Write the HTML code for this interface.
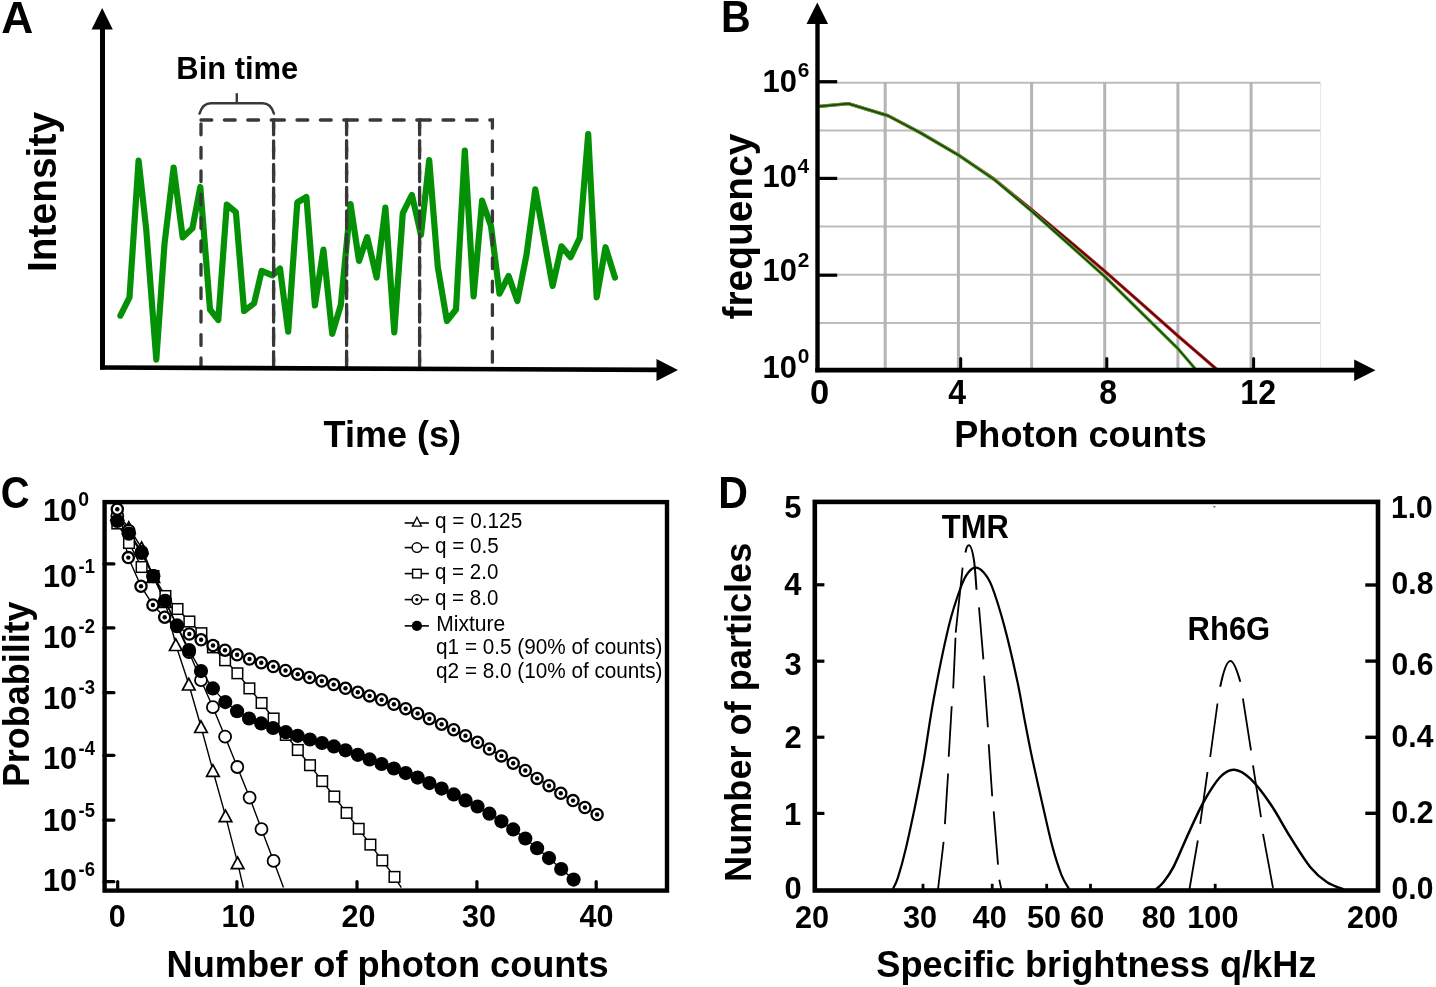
<!DOCTYPE html>
<html lang="en">
<head>
<meta charset="utf-8">
<title>Photon counting histogram figure</title>
<style>
html,body{margin:0;padding:0;background:#fff;}
body{width:1436px;height:987px;overflow:hidden;}
svg{display:block;font-family:"Liberation Sans", sans-serif;}
text{font-family:"Liberation Sans", sans-serif;}
</style>
</head>
<body>
<svg width="1436" height="987" viewBox="0 0 1436 987" role="img" aria-label="Photon counting histogram figure, panels A to D">
<rect width="1436" height="987" fill="#fff"/>
<g id="panelA" aria-label="Panel A: intensity trace with bin time">
<text x="1.2" y="32.8" font-size="44.8" font-weight="bold" textLength="32.0" lengthAdjust="spacingAndGlyphs">A</text>
<polyline points="120.4,315.6 129.5,297.3 138.6,160.5 146.2,229.0 156.3,359.6 164.5,244.0 173.6,167.5 182.7,237.4 192.4,228.3 200.3,187.0 210.0,309.5 218.3,320.0 226.8,204.6 235.9,212.2 244.1,311.0 254.1,303.4 261.7,270.9 272.4,275.4 280.0,268.5 288.2,331.7 297.3,202.5 306.4,197.0 314.9,305.5 323.4,249.6 332.2,333.8 340.8,305.0 350.5,204.0 359.0,260.9 367.2,237.1 376.6,277.6 385.4,207.7 394.3,332.3 402.8,213.1 411.9,194.9 421.0,235.0 429.2,160.0 437.8,267.0 446.9,321.0 456.0,309.5 464.8,150.5 473.6,296.4 482.1,200.7 491.0,226.0 499.5,293.7 508.6,276.0 517.4,301.0 526.5,254.8 535.3,189.4 552.6,286.0 561.5,246.3 570.6,257.2 579.7,238.0 588.2,134.1 596.7,297.3 605.5,247.2 615.0,277.6" fill="none" stroke="#059105" stroke-width="6.2" stroke-linejoin="round" stroke-linecap="round"/>
<path d="M201.0,120 L273.6,120 L273.6,366" fill="none" stroke="#383838" stroke-width="3.3" stroke-linecap="round" stroke-dasharray="10.8 12.6"/>
<path d="M201.0,124 L201.0,366" fill="none" stroke="#383838" stroke-width="3.3" stroke-linecap="round" stroke-dasharray="10.8 12.6"/>
<path d="M273.6,120 L346.6,120 L346.6,366" fill="none" stroke="#383838" stroke-width="3.3" stroke-linecap="round" stroke-dasharray="10.8 12.6"/>
<path d="M273.6,124 L273.6,366" fill="none" stroke="#383838" stroke-width="3.3" stroke-linecap="round" stroke-dasharray="10.8 12.6"/>
<path d="M346.6,120 L419.6,120 L419.6,366" fill="none" stroke="#383838" stroke-width="3.3" stroke-linecap="round" stroke-dasharray="10.8 12.6"/>
<path d="M346.6,124 L346.6,366" fill="none" stroke="#383838" stroke-width="3.3" stroke-linecap="round" stroke-dasharray="10.8 12.6"/>
<path d="M419.6,120 L492.4,120 L492.4,366" fill="none" stroke="#383838" stroke-width="3.3" stroke-linecap="round" stroke-dasharray="10.8 12.6"/>
<path d="M419.6,124 L419.6,366" fill="none" stroke="#383838" stroke-width="3.3" stroke-linecap="round" stroke-dasharray="10.8 12.6"/>
<path d="M199.6,113.5 C201.5,107 205,103.2 211,103.2 L262.5,103.2 C268.5,103.2 272,107 273.9,113.5" fill="none" stroke="#383838" stroke-width="2.6" stroke-linecap="round"/>
<line x1="236.8" y1="93.2" x2="236.8" y2="103.2" stroke="#383838" stroke-width="2.4"/>
<text x="176.3" y="79.1" font-size="31.8" font-weight="bold" textLength="122.0" lengthAdjust="spacingAndGlyphs">Bin time</text>
<line x1="102.5" y1="22.0" x2="102.5" y2="369.5" stroke="#000" stroke-width="5"/>
<polygon points="102.2,8 112.8,29.5 91.6,29.5" fill="#000"/>
<polygon points="100,365.2 660,367.6 660,372.2 100,369.8" fill="#000"/>
<polygon points="678,370.1 656.5,359.1 656.5,380.9" fill="#000"/>
<text x="56.0" y="272.1" font-size="40.7" font-weight="bold" textLength="160.2" lengthAdjust="spacingAndGlyphs" transform="rotate(-90 56.0 272.1)">Intensity</text>
<text x="323.6" y="446.7" font-size="37.5" font-weight="bold" textLength="137.5" lengthAdjust="spacingAndGlyphs">Time (s)</text>
</g>
<g id="panelB" aria-label="Panel B: photon count frequency">
<text x="720.9" y="32.4" font-size="44" font-weight="bold" textLength="29.6" lengthAdjust="spacingAndGlyphs">B</text>
<line x1="818.0" y1="82.8" x2="1320.6" y2="82.8" stroke="#bdbdbd" stroke-width="2"/>
<line x1="818.0" y1="130.6" x2="1320.6" y2="130.6" stroke="#bdbdbd" stroke-width="2"/>
<line x1="818.0" y1="178.7" x2="1320.6" y2="178.7" stroke="#bdbdbd" stroke-width="2"/>
<line x1="818.0" y1="226.6" x2="1320.6" y2="226.6" stroke="#bdbdbd" stroke-width="2"/>
<line x1="818.0" y1="274.8" x2="1320.6" y2="274.8" stroke="#bdbdbd" stroke-width="2"/>
<line x1="818.0" y1="322.9" x2="1320.6" y2="322.9" stroke="#bdbdbd" stroke-width="2"/>
<line x1="885.2" y1="82.0" x2="885.2" y2="368.0" stroke="#b4b4b4" stroke-width="3"/>
<line x1="958.4" y1="82.0" x2="958.4" y2="368.0" stroke="#b4b4b4" stroke-width="3"/>
<line x1="1031.6" y1="82.0" x2="1031.6" y2="368.0" stroke="#b4b4b4" stroke-width="3"/>
<line x1="1104.7" y1="82.0" x2="1104.7" y2="368.0" stroke="#b4b4b4" stroke-width="3"/>
<line x1="1177.9" y1="82.0" x2="1177.9" y2="368.0" stroke="#b4b4b4" stroke-width="3"/>
<line x1="1251.1" y1="82.0" x2="1251.1" y2="368.0" stroke="#b4b4b4" stroke-width="3"/>
<line x1="1320.6" y1="82.0" x2="1320.6" y2="368.0" stroke="#e6e6e6" stroke-width="1"/>
<polyline points="819.4,106.3 848.4,103.6 888.5,115.9 920.8,133.0 958.2,154.9 994.3,179.2 1031.5,209.5 1068.0,240.0 1104.5,270.9 1142.2,304.2 1177.8,335.8 1216.3,369.0" fill="none" stroke="#c42a2a" stroke-width="3.3" stroke-linejoin="round"/>
<polyline points="819.4,106.3 848.4,103.6 888.5,115.9 920.8,133.0 958.2,154.9 994.3,179.2 1031.5,209.5 1068.0,240.0 1104.5,270.9 1142.2,304.2 1177.8,335.8 1216.3,369.0" fill="none" stroke="#560808" stroke-width="1.7" stroke-linejoin="round"/>
<polyline points="819.4,106.3 848.4,103.6 888.5,115.9 920.8,133.0 958.2,154.9 994.3,179.6 1031.5,211.0 1068.0,243.5 1104.5,276.3 1150.4,321.5 1177.8,348.5 1195.4,369.0" fill="none" stroke="#55a733" stroke-width="3.3" stroke-linejoin="round"/>
<polyline points="819.4,106.3 848.4,103.6 888.5,115.9 920.8,133.0 958.2,154.9 994.3,179.6 1031.5,211.0 1068.0,243.5 1104.5,276.3 1150.4,321.5 1177.8,348.5 1195.4,369.0" fill="none" stroke="#1c470c" stroke-width="1.7" stroke-linejoin="round"/>
<line x1="817.5" y1="18.0" x2="817.5" y2="372.2" stroke="#000" stroke-width="4.4"/>
<polygon points="817.3,2.5 828.1,24.1 806.5,24.1" fill="#000"/>
<line x1="815.3" y1="370.1" x2="1356.0" y2="370.1" stroke="#000" stroke-width="4.8"/>
<polygon points="1375.5,370.2 1354.2,359.4 1354.2,380.9" fill="#000"/>
<line x1="817.0" y1="81.7" x2="837.2" y2="81.7" stroke="#000" stroke-width="3.2"/>
<line x1="817.0" y1="178.4" x2="837.2" y2="178.4" stroke="#000" stroke-width="3.2"/>
<line x1="817.0" y1="275.2" x2="837.2" y2="275.2" stroke="#000" stroke-width="3.2"/>
<line x1="960.7" y1="358.6" x2="960.7" y2="369.0" stroke="#000" stroke-width="3" stroke-linecap="round"/>
<line x1="1106.8" y1="358.6" x2="1106.8" y2="369.0" stroke="#000" stroke-width="3" stroke-linecap="round"/>
<line x1="1253.6" y1="358.6" x2="1253.6" y2="369.0" stroke="#000" stroke-width="3" stroke-linecap="round"/>
<text x="762.5" y="91.7" font-size="32" font-weight="bold" textLength="34.4" lengthAdjust="spacingAndGlyphs">10</text>
<text x="797.7" y="77.4" font-size="20.8" font-weight="bold" textLength="11.6" lengthAdjust="spacingAndGlyphs">6</text>
<text x="762.5" y="187.0" font-size="32" font-weight="bold" textLength="34.4" lengthAdjust="spacingAndGlyphs">10</text>
<text x="797.6" y="172.7" font-size="20.8" font-weight="bold" textLength="11.6" lengthAdjust="spacingAndGlyphs">4</text>
<text x="762.5" y="281.0" font-size="32" font-weight="bold" textLength="34.4" lengthAdjust="spacingAndGlyphs">10</text>
<text x="797.8" y="266.7" font-size="20.8" font-weight="bold" textLength="11.6" lengthAdjust="spacingAndGlyphs">2</text>
<text x="762.5" y="377.7" font-size="32" font-weight="bold" textLength="34.4" lengthAdjust="spacingAndGlyphs">10</text>
<text x="797.7" y="363.4" font-size="20.8" font-weight="bold" textLength="11.6" lengthAdjust="spacingAndGlyphs">0</text>
<text x="809.9" y="403.6" font-size="34.5" font-weight="bold" textLength="19.2" lengthAdjust="spacingAndGlyphs">0</text>
<text x="948.3" y="403.6" font-size="34.5" font-weight="bold" textLength="17.8" lengthAdjust="spacingAndGlyphs">4</text>
<text x="1099.3" y="403.6" font-size="34.5" font-weight="bold" textLength="17.8" lengthAdjust="spacingAndGlyphs">8</text>
<text x="1240.3" y="403.6" font-size="34.5" font-weight="bold" textLength="35.7" lengthAdjust="spacingAndGlyphs">12</text>
<text x="751.6" y="319.5" font-size="40" font-weight="bold" textLength="185.9" lengthAdjust="spacingAndGlyphs" transform="rotate(-90 751.6 319.5)">frequency</text>
<text x="954.3" y="446.7" font-size="37.5" font-weight="bold" textLength="252.4" lengthAdjust="spacingAndGlyphs">Photon counts</text>
</g>
<g id="panelC" aria-label="Panel C: probability versus number of photon counts">
<text x="0.7" y="508.4" font-size="43.5" font-weight="bold" textLength="28.8" lengthAdjust="spacingAndGlyphs">C</text>
<polyline points="117.3,523.5 129.0,543.0 141.6,567.0 153.5,576.0 165.4,596.0 177.5,609.0 189.4,621.5 201.4,633.2 212.9,647.4 225.1,660.3 237.4,673.3 249.4,688.4 261.6,703.0 273.6,718.5 285.8,734.9 297.8,750.0 310.0,765.2 322.2,781.1 334.3,796.5 346.6,812.9 358.7,828.8 370.4,844.6 382.3,860.4 394.5,876.9 401.3,887.6" fill="none" stroke="#000" stroke-width="1.4"/>
<polyline points="117.3,514.0 128.8,527.7 141.6,547.8 153.3,576.5 165.1,601.5 175.8,644.7 188.8,684.2 201.0,726.7 212.9,770.5 225.5,815.9 237.6,862.8 243.4,887.6" fill="none" stroke="#000" stroke-width="1.4"/>
<polyline points="117.3,516.0 128.8,531.0 141.6,552.0 153.3,576.0 165.1,601.0 177.0,626.0 189.0,652.0 201.0,680.2 212.9,707.2 225.1,736.7 237.3,767.0 249.6,797.6 261.5,829.2 273.6,860.9 283.5,887.6" fill="none" stroke="#000" stroke-width="1.4"/>
<polyline points="117.3,509.2 128.3,557.6 141.0,586.2 152.9,605.0 164.7,617.2 177.0,626.5 189.3,634.0 201.1,639.8 213.0,645.5 225.0,650.2 237.1,654.8 249.5,659.0 261.3,662.8 273.3,666.6 285.5,670.5 297.7,674.2 309.6,677.5 321.8,681.0 333.7,684.6 345.5,688.3 357.8,692.3 369.6,695.9 381.6,699.8 393.9,704.3 405.7,708.7 417.6,713.4 429.4,718.7 441.6,724.2 453.7,729.7 465.5,735.7 477.5,742.3 489.4,749.0 501.4,755.9 513.2,763.2 525.3,770.5 537.1,778.4 549.0,785.7 560.8,793.3 573.0,800.6 584.9,807.5 597.1,814.5" fill="none" stroke="#000" stroke-width="1.4"/>
<polyline points="117.3,521.0 128.8,533.7 141.6,553.0 153.3,576.2 165.1,600.8 177.0,625.4 189.0,650.0 201.0,671.1 212.9,688.4 225.3,702.1 237.1,711.2 249.0,718.5 261.2,723.4 273.1,728.0 285.8,732.2 297.7,735.8 309.9,739.5 322.0,743.0 333.9,746.4 345.5,750.3 357.8,754.8 369.6,759.4 381.6,764.0 393.9,768.5 405.7,773.1 417.6,777.6 429.4,783.1 441.6,788.6 453.7,794.4 465.5,800.4 477.5,806.5 489.4,813.7 501.4,821.3 513.2,829.4 525.3,838.5 537.1,848.2 549.0,858.1 561.2,869.0 573.6,879.6" fill="none" stroke="#000" stroke-width="1.4"/>
<rect x="112.0" y="518.2" width="10.6" height="10.6" fill="#fff" stroke="#000" stroke-width="1.5"/>
<rect x="123.7" y="537.7" width="10.6" height="10.6" fill="#fff" stroke="#000" stroke-width="1.5"/>
<rect x="136.3" y="561.7" width="10.6" height="10.6" fill="#fff" stroke="#000" stroke-width="1.5"/>
<rect x="148.2" y="570.7" width="10.6" height="10.6" fill="#fff" stroke="#000" stroke-width="1.5"/>
<rect x="160.1" y="590.7" width="10.6" height="10.6" fill="#fff" stroke="#000" stroke-width="1.5"/>
<rect x="172.2" y="603.7" width="10.6" height="10.6" fill="#fff" stroke="#000" stroke-width="1.5"/>
<rect x="184.1" y="616.2" width="10.6" height="10.6" fill="#fff" stroke="#000" stroke-width="1.5"/>
<rect x="196.1" y="627.9" width="10.6" height="10.6" fill="#fff" stroke="#000" stroke-width="1.5"/>
<rect x="207.6" y="642.1" width="10.6" height="10.6" fill="#fff" stroke="#000" stroke-width="1.5"/>
<rect x="219.8" y="655.0" width="10.6" height="10.6" fill="#fff" stroke="#000" stroke-width="1.5"/>
<rect x="232.1" y="668.0" width="10.6" height="10.6" fill="#fff" stroke="#000" stroke-width="1.5"/>
<rect x="244.1" y="683.1" width="10.6" height="10.6" fill="#fff" stroke="#000" stroke-width="1.5"/>
<rect x="256.3" y="697.7" width="10.6" height="10.6" fill="#fff" stroke="#000" stroke-width="1.5"/>
<rect x="268.3" y="713.2" width="10.6" height="10.6" fill="#fff" stroke="#000" stroke-width="1.5"/>
<rect x="280.5" y="729.6" width="10.6" height="10.6" fill="#fff" stroke="#000" stroke-width="1.5"/>
<rect x="292.5" y="744.7" width="10.6" height="10.6" fill="#fff" stroke="#000" stroke-width="1.5"/>
<rect x="304.7" y="759.9" width="10.6" height="10.6" fill="#fff" stroke="#000" stroke-width="1.5"/>
<rect x="316.9" y="775.8" width="10.6" height="10.6" fill="#fff" stroke="#000" stroke-width="1.5"/>
<rect x="329.0" y="791.2" width="10.6" height="10.6" fill="#fff" stroke="#000" stroke-width="1.5"/>
<rect x="341.3" y="807.6" width="10.6" height="10.6" fill="#fff" stroke="#000" stroke-width="1.5"/>
<rect x="353.4" y="823.5" width="10.6" height="10.6" fill="#fff" stroke="#000" stroke-width="1.5"/>
<rect x="365.1" y="839.3" width="10.6" height="10.6" fill="#fff" stroke="#000" stroke-width="1.5"/>
<rect x="377.0" y="855.1" width="10.6" height="10.6" fill="#fff" stroke="#000" stroke-width="1.5"/>
<rect x="389.2" y="871.6" width="10.6" height="10.6" fill="#fff" stroke="#000" stroke-width="1.5"/>
<polygon points="117.3,508.2 123.6,519.8 111.0,519.8" fill="#fff" stroke="#000" stroke-width="1.7" stroke-linejoin="miter"/>
<polygon points="128.8,521.9 135.1,533.5 122.5,533.5" fill="#fff" stroke="#000" stroke-width="1.7" stroke-linejoin="miter"/>
<polygon points="141.6,542.0 147.9,553.6 135.3,553.6" fill="#fff" stroke="#000" stroke-width="1.7" stroke-linejoin="miter"/>
<polygon points="153.3,570.7 159.6,582.3 147.0,582.3" fill="#fff" stroke="#000" stroke-width="1.7" stroke-linejoin="miter"/>
<polygon points="165.1,595.7 171.4,607.3 158.8,607.3" fill="#fff" stroke="#000" stroke-width="1.7" stroke-linejoin="miter"/>
<polygon points="175.8,638.9 182.1,650.5 169.5,650.5" fill="#fff" stroke="#000" stroke-width="1.7" stroke-linejoin="miter"/>
<polygon points="188.8,678.4 195.1,690.0 182.5,690.0" fill="#fff" stroke="#000" stroke-width="1.7" stroke-linejoin="miter"/>
<polygon points="201.0,720.9 207.3,732.5 194.7,732.5" fill="#fff" stroke="#000" stroke-width="1.7" stroke-linejoin="miter"/>
<polygon points="212.9,764.7 219.2,776.3 206.6,776.3" fill="#fff" stroke="#000" stroke-width="1.7" stroke-linejoin="miter"/>
<polygon points="225.5,810.1 231.8,821.7 219.2,821.7" fill="#fff" stroke="#000" stroke-width="1.7" stroke-linejoin="miter"/>
<polygon points="237.6,857.0 243.9,868.6 231.3,868.6" fill="#fff" stroke="#000" stroke-width="1.7" stroke-linejoin="miter"/>
<circle cx="117.3" cy="516.0" r="6.0" fill="#fff" stroke="#000" stroke-width="1.8"/>
<circle cx="128.8" cy="531.0" r="6.0" fill="#fff" stroke="#000" stroke-width="1.8"/>
<circle cx="141.6" cy="552.0" r="6.0" fill="#fff" stroke="#000" stroke-width="1.8"/>
<circle cx="153.3" cy="576.0" r="6.0" fill="#fff" stroke="#000" stroke-width="1.8"/>
<circle cx="165.1" cy="601.0" r="6.0" fill="#fff" stroke="#000" stroke-width="1.8"/>
<circle cx="177.0" cy="626.0" r="6.0" fill="#fff" stroke="#000" stroke-width="1.8"/>
<circle cx="189.0" cy="652.0" r="6.0" fill="#fff" stroke="#000" stroke-width="1.8"/>
<circle cx="201.0" cy="680.2" r="6.0" fill="#fff" stroke="#000" stroke-width="1.8"/>
<circle cx="212.9" cy="707.2" r="6.0" fill="#fff" stroke="#000" stroke-width="1.8"/>
<circle cx="225.1" cy="736.7" r="6.0" fill="#fff" stroke="#000" stroke-width="1.8"/>
<circle cx="237.3" cy="767.0" r="6.0" fill="#fff" stroke="#000" stroke-width="1.8"/>
<circle cx="249.6" cy="797.6" r="6.0" fill="#fff" stroke="#000" stroke-width="1.8"/>
<circle cx="261.5" cy="829.2" r="6.0" fill="#fff" stroke="#000" stroke-width="1.8"/>
<circle cx="273.6" cy="860.9" r="6.0" fill="#fff" stroke="#000" stroke-width="1.8"/>
<circle cx="117.3" cy="509.2" r="5.6" fill="#fff" stroke="#000" stroke-width="2.3"/>
<circle cx="117.3" cy="509.2" r="2.2" fill="#000"/>
<circle cx="128.3" cy="557.6" r="5.6" fill="#fff" stroke="#000" stroke-width="2.3"/>
<circle cx="128.3" cy="557.6" r="2.2" fill="#000"/>
<circle cx="141.0" cy="586.2" r="5.6" fill="#fff" stroke="#000" stroke-width="2.3"/>
<circle cx="141.0" cy="586.2" r="2.2" fill="#000"/>
<circle cx="152.9" cy="605.0" r="5.6" fill="#fff" stroke="#000" stroke-width="2.3"/>
<circle cx="152.9" cy="605.0" r="2.2" fill="#000"/>
<circle cx="164.7" cy="617.2" r="5.6" fill="#fff" stroke="#000" stroke-width="2.3"/>
<circle cx="164.7" cy="617.2" r="2.2" fill="#000"/>
<circle cx="177.0" cy="626.5" r="5.6" fill="#fff" stroke="#000" stroke-width="2.3"/>
<circle cx="177.0" cy="626.5" r="2.2" fill="#000"/>
<circle cx="189.3" cy="634.0" r="5.6" fill="#fff" stroke="#000" stroke-width="2.3"/>
<circle cx="189.3" cy="634.0" r="2.2" fill="#000"/>
<circle cx="201.1" cy="639.8" r="5.6" fill="#fff" stroke="#000" stroke-width="2.3"/>
<circle cx="201.1" cy="639.8" r="2.2" fill="#000"/>
<circle cx="213.0" cy="645.5" r="5.6" fill="#fff" stroke="#000" stroke-width="2.3"/>
<circle cx="213.0" cy="645.5" r="2.2" fill="#000"/>
<circle cx="225.0" cy="650.2" r="5.6" fill="#fff" stroke="#000" stroke-width="2.3"/>
<circle cx="225.0" cy="650.2" r="2.2" fill="#000"/>
<circle cx="237.1" cy="654.8" r="5.6" fill="#fff" stroke="#000" stroke-width="2.3"/>
<circle cx="237.1" cy="654.8" r="2.2" fill="#000"/>
<circle cx="249.5" cy="659.0" r="5.6" fill="#fff" stroke="#000" stroke-width="2.3"/>
<circle cx="249.5" cy="659.0" r="2.2" fill="#000"/>
<circle cx="261.3" cy="662.8" r="5.6" fill="#fff" stroke="#000" stroke-width="2.3"/>
<circle cx="261.3" cy="662.8" r="2.2" fill="#000"/>
<circle cx="273.3" cy="666.6" r="5.6" fill="#fff" stroke="#000" stroke-width="2.3"/>
<circle cx="273.3" cy="666.6" r="2.2" fill="#000"/>
<circle cx="285.5" cy="670.5" r="5.6" fill="#fff" stroke="#000" stroke-width="2.3"/>
<circle cx="285.5" cy="670.5" r="2.2" fill="#000"/>
<circle cx="297.7" cy="674.2" r="5.6" fill="#fff" stroke="#000" stroke-width="2.3"/>
<circle cx="297.7" cy="674.2" r="2.2" fill="#000"/>
<circle cx="309.6" cy="677.5" r="5.6" fill="#fff" stroke="#000" stroke-width="2.3"/>
<circle cx="309.6" cy="677.5" r="2.2" fill="#000"/>
<circle cx="321.8" cy="681.0" r="5.6" fill="#fff" stroke="#000" stroke-width="2.3"/>
<circle cx="321.8" cy="681.0" r="2.2" fill="#000"/>
<circle cx="333.7" cy="684.6" r="5.6" fill="#fff" stroke="#000" stroke-width="2.3"/>
<circle cx="333.7" cy="684.6" r="2.2" fill="#000"/>
<circle cx="345.5" cy="688.3" r="5.6" fill="#fff" stroke="#000" stroke-width="2.3"/>
<circle cx="345.5" cy="688.3" r="2.2" fill="#000"/>
<circle cx="357.8" cy="692.3" r="5.6" fill="#fff" stroke="#000" stroke-width="2.3"/>
<circle cx="357.8" cy="692.3" r="2.2" fill="#000"/>
<circle cx="369.6" cy="695.9" r="5.6" fill="#fff" stroke="#000" stroke-width="2.3"/>
<circle cx="369.6" cy="695.9" r="2.2" fill="#000"/>
<circle cx="381.6" cy="699.8" r="5.6" fill="#fff" stroke="#000" stroke-width="2.3"/>
<circle cx="381.6" cy="699.8" r="2.2" fill="#000"/>
<circle cx="393.9" cy="704.3" r="5.6" fill="#fff" stroke="#000" stroke-width="2.3"/>
<circle cx="393.9" cy="704.3" r="2.2" fill="#000"/>
<circle cx="405.7" cy="708.7" r="5.6" fill="#fff" stroke="#000" stroke-width="2.3"/>
<circle cx="405.7" cy="708.7" r="2.2" fill="#000"/>
<circle cx="417.6" cy="713.4" r="5.6" fill="#fff" stroke="#000" stroke-width="2.3"/>
<circle cx="417.6" cy="713.4" r="2.2" fill="#000"/>
<circle cx="429.4" cy="718.7" r="5.6" fill="#fff" stroke="#000" stroke-width="2.3"/>
<circle cx="429.4" cy="718.7" r="2.2" fill="#000"/>
<circle cx="441.6" cy="724.2" r="5.6" fill="#fff" stroke="#000" stroke-width="2.3"/>
<circle cx="441.6" cy="724.2" r="2.2" fill="#000"/>
<circle cx="453.7" cy="729.7" r="5.6" fill="#fff" stroke="#000" stroke-width="2.3"/>
<circle cx="453.7" cy="729.7" r="2.2" fill="#000"/>
<circle cx="465.5" cy="735.7" r="5.6" fill="#fff" stroke="#000" stroke-width="2.3"/>
<circle cx="465.5" cy="735.7" r="2.2" fill="#000"/>
<circle cx="477.5" cy="742.3" r="5.6" fill="#fff" stroke="#000" stroke-width="2.3"/>
<circle cx="477.5" cy="742.3" r="2.2" fill="#000"/>
<circle cx="489.4" cy="749.0" r="5.6" fill="#fff" stroke="#000" stroke-width="2.3"/>
<circle cx="489.4" cy="749.0" r="2.2" fill="#000"/>
<circle cx="501.4" cy="755.9" r="5.6" fill="#fff" stroke="#000" stroke-width="2.3"/>
<circle cx="501.4" cy="755.9" r="2.2" fill="#000"/>
<circle cx="513.2" cy="763.2" r="5.6" fill="#fff" stroke="#000" stroke-width="2.3"/>
<circle cx="513.2" cy="763.2" r="2.2" fill="#000"/>
<circle cx="525.3" cy="770.5" r="5.6" fill="#fff" stroke="#000" stroke-width="2.3"/>
<circle cx="525.3" cy="770.5" r="2.2" fill="#000"/>
<circle cx="537.1" cy="778.4" r="5.6" fill="#fff" stroke="#000" stroke-width="2.3"/>
<circle cx="537.1" cy="778.4" r="2.2" fill="#000"/>
<circle cx="549.0" cy="785.7" r="5.6" fill="#fff" stroke="#000" stroke-width="2.3"/>
<circle cx="549.0" cy="785.7" r="2.2" fill="#000"/>
<circle cx="560.8" cy="793.3" r="5.6" fill="#fff" stroke="#000" stroke-width="2.3"/>
<circle cx="560.8" cy="793.3" r="2.2" fill="#000"/>
<circle cx="573.0" cy="800.6" r="5.6" fill="#fff" stroke="#000" stroke-width="2.3"/>
<circle cx="573.0" cy="800.6" r="2.2" fill="#000"/>
<circle cx="584.9" cy="807.5" r="5.6" fill="#fff" stroke="#000" stroke-width="2.3"/>
<circle cx="584.9" cy="807.5" r="2.2" fill="#000"/>
<circle cx="597.1" cy="814.5" r="5.6" fill="#fff" stroke="#000" stroke-width="2.3"/>
<circle cx="597.1" cy="814.5" r="2.2" fill="#000"/>
<circle cx="117.3" cy="521.0" r="7.1" fill="#000"/>
<circle cx="128.8" cy="533.7" r="7.1" fill="#000"/>
<circle cx="141.6" cy="553.0" r="7.1" fill="#000"/>
<circle cx="153.3" cy="576.2" r="7.1" fill="#000"/>
<circle cx="165.1" cy="600.8" r="7.1" fill="#000"/>
<circle cx="177.0" cy="625.4" r="7.1" fill="#000"/>
<circle cx="189.0" cy="650.0" r="7.1" fill="#000"/>
<circle cx="201.0" cy="671.1" r="7.1" fill="#000"/>
<circle cx="212.9" cy="688.4" r="7.1" fill="#000"/>
<circle cx="225.3" cy="702.1" r="7.1" fill="#000"/>
<circle cx="237.1" cy="711.2" r="7.1" fill="#000"/>
<circle cx="249.0" cy="718.5" r="7.1" fill="#000"/>
<circle cx="261.2" cy="723.4" r="7.1" fill="#000"/>
<circle cx="273.1" cy="728.0" r="7.1" fill="#000"/>
<circle cx="285.8" cy="732.2" r="7.1" fill="#000"/>
<circle cx="297.7" cy="735.8" r="7.1" fill="#000"/>
<circle cx="309.9" cy="739.5" r="7.1" fill="#000"/>
<circle cx="322.0" cy="743.0" r="7.1" fill="#000"/>
<circle cx="333.9" cy="746.4" r="7.1" fill="#000"/>
<circle cx="345.5" cy="750.3" r="7.1" fill="#000"/>
<circle cx="357.8" cy="754.8" r="7.1" fill="#000"/>
<circle cx="369.6" cy="759.4" r="7.1" fill="#000"/>
<circle cx="381.6" cy="764.0" r="7.1" fill="#000"/>
<circle cx="393.9" cy="768.5" r="7.1" fill="#000"/>
<circle cx="405.7" cy="773.1" r="7.1" fill="#000"/>
<circle cx="417.6" cy="777.6" r="7.1" fill="#000"/>
<circle cx="429.4" cy="783.1" r="7.1" fill="#000"/>
<circle cx="441.6" cy="788.6" r="7.1" fill="#000"/>
<circle cx="453.7" cy="794.4" r="7.1" fill="#000"/>
<circle cx="465.5" cy="800.4" r="7.1" fill="#000"/>
<circle cx="477.5" cy="806.5" r="7.1" fill="#000"/>
<circle cx="489.4" cy="813.7" r="7.1" fill="#000"/>
<circle cx="501.4" cy="821.3" r="7.1" fill="#000"/>
<circle cx="513.2" cy="829.4" r="7.1" fill="#000"/>
<circle cx="525.3" cy="838.5" r="7.1" fill="#000"/>
<circle cx="537.1" cy="848.2" r="7.1" fill="#000"/>
<circle cx="549.0" cy="858.1" r="7.1" fill="#000"/>
<circle cx="561.2" cy="869.0" r="7.1" fill="#000"/>
<circle cx="573.6" cy="879.6" r="7.1" fill="#000"/>
<rect x="104.6" y="502.1" width="562.4" height="388.5" fill="none" stroke="#000" stroke-width="4.4"/>
<line x1="104.0" y1="563.9" x2="113.9" y2="563.9" stroke="#000" stroke-width="3.2" stroke-linecap="round"/>
<line x1="104.0" y1="627.9" x2="113.9" y2="627.9" stroke="#000" stroke-width="3.2" stroke-linecap="round"/>
<line x1="104.0" y1="692.7" x2="113.9" y2="692.7" stroke="#000" stroke-width="3.2" stroke-linecap="round"/>
<line x1="104.0" y1="755.3" x2="113.9" y2="755.3" stroke="#000" stroke-width="3.2" stroke-linecap="round"/>
<line x1="104.0" y1="820.1" x2="113.9" y2="820.1" stroke="#000" stroke-width="3.2" stroke-linecap="round"/>
<line x1="104.0" y1="881.7" x2="113.9" y2="881.7" stroke="#000" stroke-width="3.2" stroke-linecap="round"/>
<line x1="117.7" y1="881.6" x2="117.7" y2="890.6" stroke="#000" stroke-width="3.2" stroke-linecap="round"/>
<line x1="236.9" y1="881.6" x2="236.9" y2="890.6" stroke="#000" stroke-width="3.2" stroke-linecap="round"/>
<line x1="357.0" y1="881.6" x2="357.0" y2="890.6" stroke="#000" stroke-width="3.2" stroke-linecap="round"/>
<line x1="476.9" y1="881.6" x2="476.9" y2="890.6" stroke="#000" stroke-width="3.2" stroke-linecap="round"/>
<line x1="596.2" y1="881.6" x2="596.2" y2="890.6" stroke="#000" stroke-width="3.2" stroke-linecap="round"/>
<text x="43.0" y="521.0" font-size="31.8" font-weight="bold" textLength="34.1" lengthAdjust="spacingAndGlyphs">10</text>
<text x="78.2" y="506.3" font-size="20.7" font-weight="bold" textLength="10.8" lengthAdjust="spacingAndGlyphs">0</text>
<text x="43.0" y="587.4" font-size="31.8" font-weight="bold" textLength="34.1" lengthAdjust="spacingAndGlyphs">10</text>
<text x="78.6" y="572.7" font-size="20.7" font-weight="bold" textLength="16.4" lengthAdjust="spacingAndGlyphs">-1</text>
<text x="43.0" y="647.7" font-size="31.8" font-weight="bold" textLength="34.1" lengthAdjust="spacingAndGlyphs">10</text>
<text x="78.6" y="633.0" font-size="20.7" font-weight="bold" textLength="16.4" lengthAdjust="spacingAndGlyphs">-2</text>
<text x="43.0" y="708.9" font-size="31.8" font-weight="bold" textLength="34.1" lengthAdjust="spacingAndGlyphs">10</text>
<text x="78.6" y="694.2" font-size="20.7" font-weight="bold" textLength="16.4" lengthAdjust="spacingAndGlyphs">-3</text>
<text x="43.0" y="769.4" font-size="31.8" font-weight="bold" textLength="34.1" lengthAdjust="spacingAndGlyphs">10</text>
<text x="78.6" y="754.7" font-size="20.7" font-weight="bold" textLength="16.4" lengthAdjust="spacingAndGlyphs">-4</text>
<text x="43.0" y="831.4" font-size="31.8" font-weight="bold" textLength="34.1" lengthAdjust="spacingAndGlyphs">10</text>
<text x="78.6" y="816.7" font-size="20.7" font-weight="bold" textLength="16.4" lengthAdjust="spacingAndGlyphs">-5</text>
<text x="43.0" y="890.6" font-size="31.8" font-weight="bold" textLength="34.1" lengthAdjust="spacingAndGlyphs">10</text>
<text x="78.6" y="875.9" font-size="20.7" font-weight="bold" textLength="16.4" lengthAdjust="spacingAndGlyphs">-6</text>
<text x="108.7" y="927.0" font-size="31.5" font-weight="bold" textLength="17.0" lengthAdjust="spacingAndGlyphs">0</text>
<text x="221.5" y="927.0" font-size="31.5" font-weight="bold" textLength="34.0" lengthAdjust="spacingAndGlyphs">10</text>
<text x="341.5" y="927.0" font-size="31.5" font-weight="bold" textLength="34.0" lengthAdjust="spacingAndGlyphs">20</text>
<text x="461.9" y="927.0" font-size="31.5" font-weight="bold" textLength="34.0" lengthAdjust="spacingAndGlyphs">30</text>
<text x="579.6" y="927.0" font-size="31.5" font-weight="bold" textLength="34.0" lengthAdjust="spacingAndGlyphs">40</text>
<text x="29.1" y="787.1" font-size="37.8" font-weight="bold" textLength="185.7" lengthAdjust="spacingAndGlyphs" transform="rotate(-90 29.1 787.1)">Probability</text>
<text x="166.6" y="977.0" font-size="37.5" font-weight="bold" textLength="442.0" lengthAdjust="spacingAndGlyphs">Number of photon counts</text>
<line x1="404.7" y1="523.0" x2="428.9" y2="523.0" stroke="#000" stroke-width="1.6"/>
<line x1="404.7" y1="547.6" x2="428.9" y2="547.6" stroke="#000" stroke-width="1.6"/>
<line x1="404.7" y1="573.6" x2="428.9" y2="573.6" stroke="#000" stroke-width="1.6"/>
<line x1="404.7" y1="599.6" x2="428.9" y2="599.6" stroke="#000" stroke-width="1.6"/>
<line x1="404.7" y1="625.9" x2="428.9" y2="625.9" stroke="#000" stroke-width="1.6"/>
<polygon points="416.9,517.2 421.4,526.2 412.4,526.2" fill="#fff" stroke="#000" stroke-width="1.3"/>
<circle cx="416.9" cy="547.6" r="4.8" fill="#fff" stroke="#000" stroke-width="1.4"/>
<rect x="412.6" y="569.3" width="8.6" height="8.6" fill="#fff" stroke="#000" stroke-width="1.4"/>
<circle cx="416.9" cy="599.6" r="4.8" fill="#fff" stroke="#000" stroke-width="1.4"/>
<circle cx="416.9" cy="599.6" r="1.6" fill="#000"/>
<circle cx="416.9" cy="625.9" r="5.1" fill="#000"/>
<text x="435.0" y="527.6" font-size="21.5" textLength="87.2" lengthAdjust="spacingAndGlyphs">q = 0.125</text>
<text x="435.0" y="552.8" font-size="21.5" textLength="63.7" lengthAdjust="spacingAndGlyphs">q = 0.5</text>
<text x="435.0" y="578.9" font-size="21.5" textLength="63.3" lengthAdjust="spacingAndGlyphs">q = 2.0</text>
<text x="435.0" y="604.8" font-size="21.5" textLength="63.3" lengthAdjust="spacingAndGlyphs">q = 8.0</text>
<text x="436.2" y="631.2" font-size="21.5" textLength="69.0" lengthAdjust="spacingAndGlyphs">Mixture</text>
<text x="436.1" y="653.6" font-size="21.5" textLength="226.3" lengthAdjust="spacingAndGlyphs">q1 = 0.5 (90% of counts)</text>
<text x="436.1" y="677.6" font-size="21.5" textLength="226.3" lengthAdjust="spacingAndGlyphs">q2 = 8.0 (10% of counts)</text>
</g>
<g id="panelD" aria-label="Panel D: number of particles versus specific brightness">
<text x="718.3" y="508.1" font-size="43.6" font-weight="bold" textLength="29.7" lengthAdjust="spacingAndGlyphs">D</text>
<path d="M892.9,889.0 C893.8,887.0 895.9,883.9 898.0,877.3 C900.1,870.7 902.9,860.8 905.6,849.4 C908.4,838.0 911.5,823.2 914.5,808.9 C917.5,794.5 920.1,781.4 923.3,763.3 C926.5,745.1 929.3,722.8 933.5,700.0 C937.7,677.2 944.1,645.4 948.7,626.4 C953.3,607.4 958.0,594.9 961.3,585.9 C964.6,576.9 966.1,575.3 968.5,572.3 C970.9,569.2 973.1,567.6 975.6,567.6 C978.1,567.6 980.8,569.2 983.5,572.3 C986.2,575.3 988.2,576.9 991.7,585.9 C995.2,594.9 1000.1,610.4 1004.4,626.4 C1008.7,642.4 1014.1,666.2 1017.5,682.1 C1020.9,698.0 1022.5,709.3 1025.0,722.0 C1027.5,734.7 1029.3,744.6 1032.2,758.3 C1035.1,771.9 1039.0,789.1 1042.4,803.9 C1045.8,818.7 1049.3,835.1 1052.5,846.9 C1055.7,858.7 1058.7,867.8 1061.4,874.8 C1064.2,881.8 1067.7,886.6 1069.0,889.0" fill="none" stroke="#000" stroke-width="2.2"/>
<path d="M965.5,552.5 C966.3,548 967.5,545.2 968.8,545.2 C971,545.2 972.8,552 974.2,562 C975.2,570 975.9,581 976.5,589.7" fill="none" stroke="#000" stroke-width="2"/>
<line x1="979.0" y1="607.4" x2="983.4" y2="659.3" stroke="#000" stroke-width="1.8"/>
<line x1="984.1" y1="675.8" x2="987.9" y2="727.2" stroke="#000" stroke-width="1.8"/>
<line x1="988.7" y1="744.3" x2="992.2" y2="796.3" stroke="#000" stroke-width="1.8"/>
<line x1="993.7" y1="811.4" x2="998.0" y2="864.6" stroke="#000" stroke-width="1.8"/>
<line x1="999.3" y1="879.8" x2="1001.3" y2="889.0" stroke="#000" stroke-width="1.8"/>
<line x1="962.6" y1="567.6" x2="955.7" y2="632.7" stroke="#000" stroke-width="1.8"/>
<line x1="955.5" y1="637.8" x2="953.2" y2="688.4" stroke="#000" stroke-width="1.8"/>
<line x1="951.7" y1="706.2" x2="948.7" y2="756.8" stroke="#000" stroke-width="1.8"/>
<line x1="948.1" y1="773.5" x2="944.9" y2="824.1" stroke="#000" stroke-width="1.8"/>
<line x1="943.6" y1="841.8" x2="938.0" y2="889.5" stroke="#000" stroke-width="1.8"/>
<path d="M1156.1,889.3 C1157.3,888.1 1160.5,886.0 1163.4,882.3 C1166.3,878.6 1169.5,874.7 1173.4,867.2 C1177.3,859.7 1181.8,848.1 1186.8,837.2 C1191.8,826.4 1197.9,812.1 1203.5,802.1 C1209.1,792.1 1215.1,782.4 1220.2,777.0 C1225.3,771.6 1229.2,769.4 1234.2,769.7 C1239.2,770.0 1244.3,773.0 1250.3,778.7 C1256.3,784.4 1263.6,794.0 1270.3,803.8 C1277.0,813.5 1283.7,826.6 1290.4,837.2 C1297.1,847.8 1304.3,859.7 1310.4,867.2 C1316.5,874.7 1321.5,878.6 1327.1,882.3 C1332.7,886.0 1341.0,888.1 1343.8,889.3" fill="none" stroke="#000" stroke-width="2.5"/>
<path d="M1220.2,686.8 C1223.5,671 1226.8,661 1230.3,661 C1233.8,661 1237,670 1240.3,681.8" fill="none" stroke="#000" stroke-width="2"/>
<line x1="1217.5" y1="703.5" x2="1210.2" y2="757.0" stroke="#000" stroke-width="1.8"/>
<line x1="1207.5" y1="772.0" x2="1200.2" y2="823.8" stroke="#000" stroke-width="1.8"/>
<line x1="1197.8" y1="840.5" x2="1189.5" y2="889.0" stroke="#000" stroke-width="1.8"/>
<line x1="1242.9" y1="698.5" x2="1251.0" y2="750.3" stroke="#000" stroke-width="1.8"/>
<line x1="1253.0" y1="765.3" x2="1261.0" y2="817.1" stroke="#000" stroke-width="1.8"/>
<line x1="1263.0" y1="833.8" x2="1273.0" y2="887.8" stroke="#000" stroke-width="1.8"/>
<rect x="814.8" y="501.9" width="563.2" height="388.6" fill="none" stroke="#000" stroke-width="4.6"/>
<ellipse cx="1214.4" cy="506.7" rx="1.3" ry="0.8" fill="#555"/>
<line x1="815.0" y1="584.8" x2="824.4" y2="584.8" stroke="#000" stroke-width="3.2"/>
<line x1="815.0" y1="661.2" x2="824.4" y2="661.2" stroke="#000" stroke-width="3.2"/>
<line x1="815.0" y1="737.2" x2="824.4" y2="737.2" stroke="#000" stroke-width="3.2"/>
<line x1="815.0" y1="813.4" x2="824.4" y2="813.4" stroke="#000" stroke-width="3.2"/>
<line x1="1365.3" y1="585.0" x2="1377.0" y2="585.0" stroke="#000" stroke-width="3.4"/>
<line x1="1365.3" y1="661.1" x2="1377.0" y2="661.1" stroke="#000" stroke-width="3.4"/>
<line x1="1365.3" y1="737.3" x2="1377.0" y2="737.3" stroke="#000" stroke-width="3.4"/>
<line x1="1365.3" y1="813.3" x2="1377.0" y2="813.3" stroke="#000" stroke-width="3.4"/>
<line x1="923.0" y1="883.8" x2="923.0" y2="890.5" stroke="#000" stroke-width="2.8"/>
<line x1="992.2" y1="883.8" x2="992.2" y2="890.5" stroke="#000" stroke-width="2.8"/>
<line x1="1046.7" y1="883.8" x2="1046.7" y2="890.5" stroke="#000" stroke-width="2.8"/>
<line x1="1090.5" y1="883.8" x2="1090.5" y2="890.5" stroke="#000" stroke-width="2.8"/>
<line x1="1215.2" y1="883.8" x2="1215.2" y2="890.5" stroke="#000" stroke-width="2.8"/>
<text x="784.3" y="517.6" font-size="31" font-weight="bold" textLength="17.2" lengthAdjust="spacingAndGlyphs">5</text>
<text x="784.2" y="594.9" font-size="31" font-weight="bold" textLength="17.2" lengthAdjust="spacingAndGlyphs">4</text>
<text x="784.6" y="675.0" font-size="31" font-weight="bold" textLength="17.2" lengthAdjust="spacingAndGlyphs">3</text>
<text x="784.5" y="748.0" font-size="31" font-weight="bold" textLength="17.2" lengthAdjust="spacingAndGlyphs">2</text>
<text x="783.9" y="825.0" font-size="31" font-weight="bold" textLength="17.2" lengthAdjust="spacingAndGlyphs">1</text>
<text x="784.4" y="899.2" font-size="31" font-weight="bold" textLength="17.2" lengthAdjust="spacingAndGlyphs">0</text>
<text x="1391.0" y="517.6" font-size="31" font-weight="bold" textLength="41.8" lengthAdjust="spacingAndGlyphs">1.0</text>
<text x="1391.6" y="594.2" font-size="31" font-weight="bold" textLength="41.8" lengthAdjust="spacingAndGlyphs">0.8</text>
<text x="1391.6" y="674.8" font-size="31" font-weight="bold" textLength="41.8" lengthAdjust="spacingAndGlyphs">0.6</text>
<text x="1391.6" y="747.2" font-size="31" font-weight="bold" textLength="41.8" lengthAdjust="spacingAndGlyphs">0.4</text>
<text x="1391.6" y="823.2" font-size="31" font-weight="bold" textLength="41.8" lengthAdjust="spacingAndGlyphs">0.2</text>
<text x="1391.6" y="898.6" font-size="31" font-weight="bold" textLength="41.8" lengthAdjust="spacingAndGlyphs">0.0</text>
<text x="795.0" y="927.7" font-size="31" font-weight="bold" textLength="34.1" lengthAdjust="spacingAndGlyphs">20</text>
<text x="903.0" y="927.7" font-size="31" font-weight="bold" textLength="34.1" lengthAdjust="spacingAndGlyphs">30</text>
<text x="972.6" y="927.7" font-size="31" font-weight="bold" textLength="34.1" lengthAdjust="spacingAndGlyphs">40</text>
<text x="1027.0" y="927.7" font-size="31" font-weight="bold" textLength="34.1" lengthAdjust="spacingAndGlyphs">50</text>
<text x="1070.1" y="927.7" font-size="31" font-weight="bold" textLength="34.1" lengthAdjust="spacingAndGlyphs">60</text>
<text x="1141.7" y="927.7" font-size="31" font-weight="bold" textLength="34.1" lengthAdjust="spacingAndGlyphs">80</text>
<text x="1187.3" y="927.7" font-size="31" font-weight="bold" textLength="51.2" lengthAdjust="spacingAndGlyphs">100</text>
<text x="1347.1" y="927.7" font-size="31" font-weight="bold" textLength="51.2" lengthAdjust="spacingAndGlyphs">200</text>
<text x="941.8" y="537.6" font-size="32.9" font-weight="bold" textLength="66.9" lengthAdjust="spacingAndGlyphs">TMR</text>
<text x="1187.6" y="640.1" font-size="32.4" font-weight="bold" textLength="82.6" lengthAdjust="spacingAndGlyphs">Rh6G</text>
<text x="751.5" y="881.9" font-size="37.5" font-weight="bold" textLength="339.2" lengthAdjust="spacingAndGlyphs" transform="rotate(-90 751.5 881.9)">Number of particles</text>
<text x="876.3" y="976.9" font-size="37.5" font-weight="bold" textLength="440.1" lengthAdjust="spacingAndGlyphs">Specific brightness q/kHz</text>
</g>
</svg>
</body>
</html>
